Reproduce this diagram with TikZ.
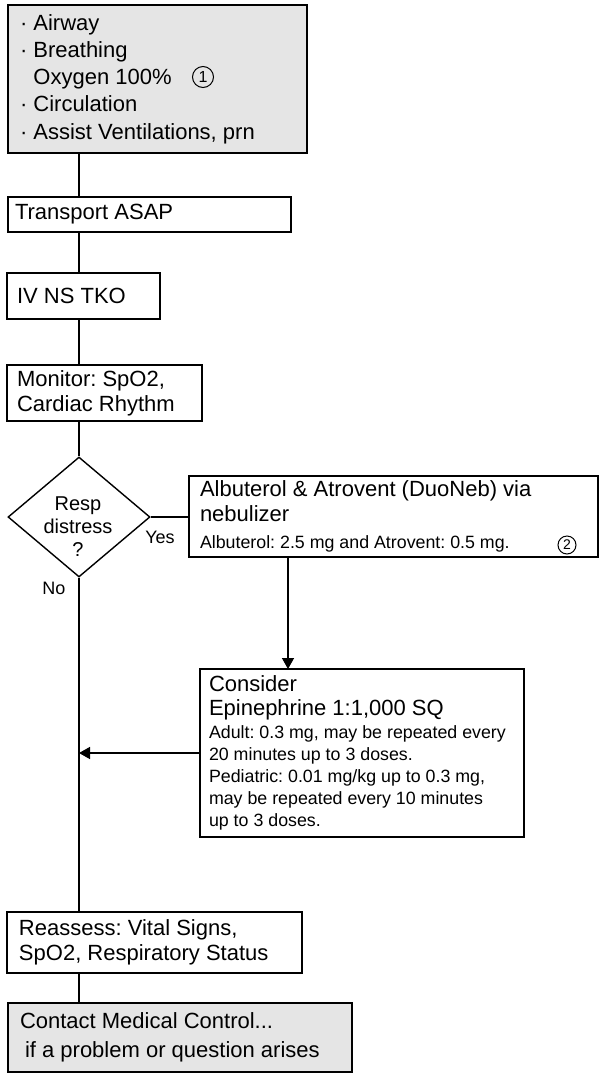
\documentclass[tikz,border=0pt]{standalone}
\usepackage{fontspec}
\setmainfont{Liberation Sans}
\usepackage{tikz}
\usetikzlibrary{shapes.geometric}
\usetikzlibrary{arrows.meta}

\newcommand{\bigtxt}{\fontsize{22}{25}\selectfont}
\newcommand{\smalltxt}{\fontsize{17.8}{22}\selectfont}

\begin{document}
\frenchspacing
\begin{tikzpicture}[x=1pt, y=-1pt,
    box/.style={draw, line width=1.4pt, anchor=north west, outer sep=0pt, inner xsep=10pt, inner ysep=0pt, align=flush left, font=\bigtxt},
    shaded/.style={box, fill=black!10, line width=2.2pt},
    decision/.style={diamond, draw, line width=1.4pt, inner sep=0pt, minimum width=142pt, minimum height=120pt},
    circnum/.style={circle, draw, line width=1pt, inner sep=0pt, minimum size=18pt, font=\fontsize{14}{14}\selectfont},
    lbl/.style={inner sep=0pt, font=\fontsize{18}{18}\selectfont},
    link/.style={line width=1.4pt},
    arrow/.style={link, -{Triangle[width=12pt, length=11pt]}}]
        \fill[white] (0,0) rectangle (600,1082);
        \useasboundingbox (0,0) rectangle (600,1082);

        \node (top) [shaded, minimum width=299pt, minimum height=148pt, text width=275pt, inner xsep=12pt, font=\fontsize{22}{27.3}\selectfont] at (8,5)
            {·\ Airway\\ ·\ Breathing\\ \phantom{·\ }Oxygen 100\%\\ ·\ Circulation\\ ·\ Assist Ventilations, prn};
        \node (n1) [circnum, minimum size=21pt, font=\fontsize{16}{16}\selectfont] at (203,77) {1};

        \node (transport) [box, minimum width=283pt, minimum height=35pt, text width=269pt, inner xsep=7pt] at (8,197) {Transport ASAP};
        \node (iv) [box, minimum width=153pt, minimum height=46pt, text width=133pt] at (7,273) {IV NS TKO};
        \node (monitor) [box, minimum width=195pt, minimum height=56pt, text width=175pt] at (7,365) {Monitor: SpO2,\\ Cardiac Rhythm};

        \node (dec) [decision] at (79,517) {};
        \node (dectext) [align=center, inner sep=0pt, font=\fontsize{20}{23}\selectfont] at (78,527) {Resp\\ distress\\ ?};
        \node (yes) [lbl] at (160,537) {Yes};
        \node (no) [lbl] at (54,588) {No};

        \node (albut) [box, minimum width=409pt, minimum height=81pt, text width=387pt, inner xsep=11pt] at (189,476)
            {Albuterol \& Atrovent (DuoNeb) via\\ nebulizer\\[2pt] {\smalltxt Albuterol: 2.5 mg and Atrovent: 0.5 mg.}};
        \node (n2) [circnum] at (567,545) {2};

        \node (consider) [box, minimum width=324pt, minimum height=168pt, text width=306pt, inner xsep=9pt, font=\smalltxt] at (200,669)
            {{\fontsize{22}{22}\selectfont Consider}\\[2pt] {\fontsize{22}{22}\selectfont Epinephrine 1:1,000 SQ}\\[1pt]
             Adult: 0.3 mg, may be repeated every\\ 20 minutes up to 3 doses.\\ Pediatric: 0.01 mg/kg up to 0.3 mg,\\ may be repeated every 10 minutes\\ up to 3 doses.};

        \node (reassess) [box, minimum width=295pt, minimum height=61pt, text width=271pt, inner xsep=12pt] at (7,912) {Reassess: Vital Signs,\\ SpO2, Respiratory Status};
        \node (contact) [shaded, minimum width=344pt, minimum height=69pt, text width=320pt, inner xsep=12pt, font=\fontsize{22}{29}\selectfont] at (8,1003)
            {Contact Medical Control...\\ \hspace*{5pt}if a problem or question arises};

        \coordinate (drop) at (288,600);

        \draw[link] (top.south -| dec) -- (transport.north -| dec);
        \draw[link] (transport.south -| dec) -- (iv.north -| dec);
        \draw[link] (iv.south -| dec) -- (monitor.north -| dec);
        \draw[link] (monitor.south -| dec) -- (dec.north);
        \draw[link] (dec.east) -- (dec.east -| albut.west);
        \draw[arrow] (albut.south -| drop) -- (consider.north -| drop);
        \draw[arrow] (consider.west) -- (consider.west -| dec);
        \draw[link] (dec.south) -- (reassess.north -| dec);
        \draw[link] (reassess.south -| dec) -- (contact.north -| dec);
\end{tikzpicture}
\end{document}
